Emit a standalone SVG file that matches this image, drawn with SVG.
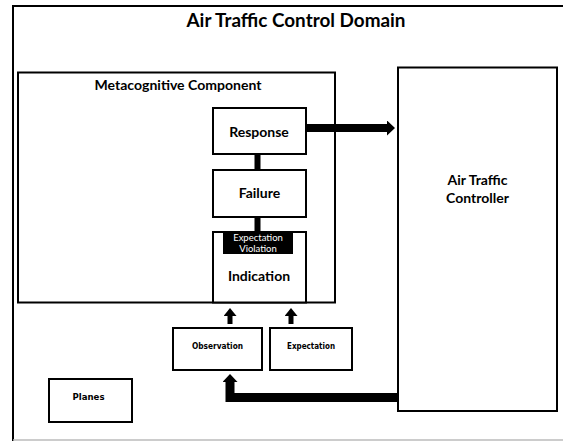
<svg xmlns="http://www.w3.org/2000/svg" width="563" height="441" viewBox="0 0 563 441">
<style>
.box{fill:#fff;stroke:#000;stroke-width:2}
.conn{fill:none;stroke:#000}
.t{font-family:Lato,"Open Sans","Liberation Sans",sans-serif;font-weight:bold;fill:#000;text-anchor:middle}
.s{font-family:"DejaVu Sans","Liberation Sans",sans-serif;font-weight:bold;fill:#000;text-anchor:middle;font-size:8px}
.w{font-family:Lato,"Open Sans","Liberation Sans",sans-serif;fill:#fff;text-anchor:middle;font-size:9.5px}
</style>
<defs>
<marker id="headL" markerUnits="userSpaceOnUse" viewBox="0 0 8 15" markerWidth="8" markerHeight="15" refX="0" refY="7.5" orient="auto"><path d="M0,0 L8,7.5 L0,15 Z" fill="#000"/></marker>
<marker id="headS" markerUnits="userSpaceOnUse" viewBox="0 0 8 13" markerWidth="8" markerHeight="13" refX="0" refY="6.5" orient="auto"><path d="M0,0 L8,6.5 L0,13 Z" fill="#000"/></marker>
</defs>
<rect width="563" height="441" fill="#fff"/>
<g id="domain">
<path d="M13,441 V6 H563" fill="none" stroke="#000" stroke-width="2"/>
<line x1="13" y1="440" x2="563" y2="440" stroke="#bbb" stroke-width="1.5"/>
<text class="t" x="296" y="27" font-size="19" textLength="219" lengthAdjust="spacingAndGlyphs">Air Traffic Control Domain</text>
</g>
<g id="metacognitive">
<rect class="box" x="18" y="72.5" width="317" height="230"/>
<text class="t" x="178" y="90" font-size="12.5" textLength="167" lengthAdjust="spacingAndGlyphs">Metacognitive Component</text>
</g>
<g id="atc">
<rect class="box" x="398" y="67.5" width="159" height="343.5"/>
<text class="t" x="477.5" y="185" font-size="14">Air Traffic</text>
<text class="t" x="477.5" y="203" font-size="14">Controller</text>
</g>
<g id="response">
<rect class="box" x="213" y="108" width="93" height="46"/>
<text class="t" x="259" y="137" font-size="14">Response</text>
</g>
<g id="failure">
<rect class="box" x="213" y="170" width="93" height="47"/>
<text class="t" x="259.5" y="198" font-size="14">Failure</text>
</g>
<g id="indication">
<rect class="box" x="213" y="232" width="93" height="70.5"/>
<rect x="223" y="232" width="70" height="22" fill="#000"/>
<text class="w" x="258" y="241">Expectation</text>
<text class="w" x="258" y="252">Violation</text>
<text class="t" x="259" y="281" font-size="14">Indication</text>
</g>
<g id="observation">
<rect class="box" x="173" y="328" width="89" height="42"/>
<text class="s" x="217.5" y="349" textLength="51" lengthAdjust="spacingAndGlyphs">Observation</text>
</g>
<g id="expectation">
<rect class="box" x="270" y="328" width="82" height="42"/>
<text class="s" x="311" y="349" textLength="48" lengthAdjust="spacingAndGlyphs">Expectation</text>
</g>
<g id="planes">
<rect class="box" x="49" y="379" width="83" height="43"/>
<text class="s" x="88.5" y="400" textLength="32" lengthAdjust="spacingAndGlyphs">Planes</text>
</g>
<g id="connectors">
<line class="conn" x1="306" y1="128" x2="387" y2="128" stroke-width="8" marker-end="url(#headL)"/>
<line class="conn" x1="257.5" y1="154" x2="257.5" y2="170" stroke-width="6"/>
<line class="conn" x1="257.5" y1="217" x2="257.5" y2="232" stroke-width="6"/>
<line class="conn" x1="230" y1="324" x2="230" y2="316" stroke-width="5" marker-end="url(#headS)"/>
<line class="conn" x1="291" y1="324" x2="291" y2="316" stroke-width="5" marker-end="url(#headS)"/>
<path class="conn" d="M398,397.5 H230 V382" stroke-width="9" marker-end="url(#headL)"/>
</g>
</svg>
